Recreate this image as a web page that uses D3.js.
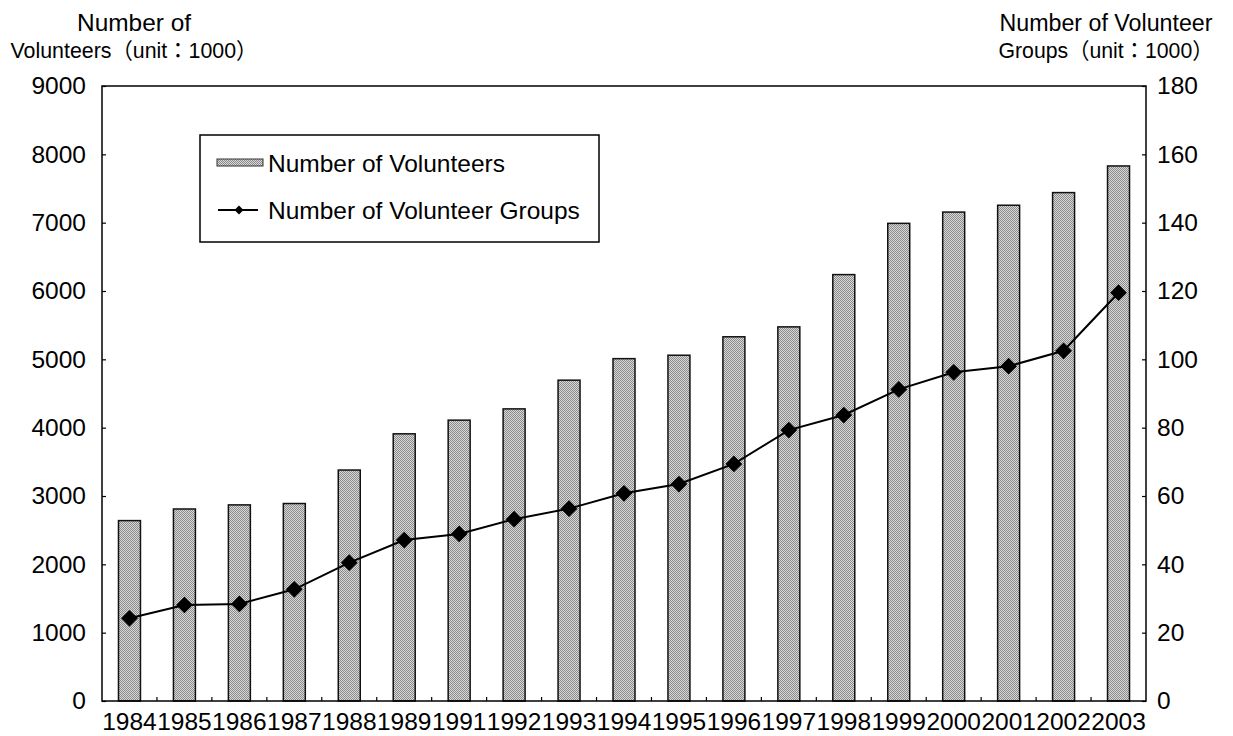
<!DOCTYPE html>
<html>
<head>
<meta charset="utf-8">
<script src="https://cdn.jsdelivr.net/npm/d3@7"></script>
<style>
  body { margin: 0; background: #fff; }
  svg text { font-family: "Liberation Sans", Arial, "Noto Sans CJK JP", sans-serif; fill: #000; }
</style>
</head>
<body>
<div id="chart"></div>
<script>
// data
const years = ["1984","1985","1986","1987","1988","1989","1991","1992","1993","1994",
               "1995","1996","1997","1998","1999","2000","2001","2002","2003"];
const volunteers = [2640, 2810, 2870, 2890, 3380, 3910, 4110, 4275, 4695, 5010,
                    5060, 5330, 5475, 6240, 6990, 7155, 7255, 7440, 7830];
const groups = [24.2, 28.1, 28.4, 32.7, 40.5, 47.1, 48.9, 53.2, 56.3, 60.8,
                63.5, 69.4, 79.3, 83.7, 91.2, 96.2, 98.0, 102.5, 119.5];
const leftTicks = [0, 1000, 2000, 3000, 4000, 5000, 6000, 7000, 8000, 9000];
const rightTicks = [0, 20, 40, 60, 80, 100, 120, 140, 160, 180];

const width = 1233, height = 736;
const m = { left: 102, right: 1146, top: 86, bottom: 701 };

const svg = d3.select("#chart").append("svg")
  .attr("width", width).attr("height", height);

// checker stipple like the printed bars
const defs = svg.append("defs");
const pat = defs.append("pattern").attr("id", "dots")
  .attr("width", 2).attr("height", 2).attr("patternUnits", "userSpaceOnUse");
pat.append("rect").attr("width", 2).attr("height", 2).attr("fill", "#d9d9d9");
pat.append("rect").attr("x", 0).attr("y", 0).attr("width", 1).attr("height", 1).attr("fill", "#8a8a8a");
pat.append("rect").attr("x", 1).attr("y", 1).attr("width", 1).attr("height", 1).attr("fill", "#8a8a8a");

const x = d3.scaleBand().domain(years).range([m.left, m.right]).paddingInner(0.6).paddingOuter(0.3);
const xb = d3.scaleBand().domain(years).range([m.left, m.right]);
const yL = d3.scaleLinear().domain([0, 9000]).range([m.bottom, m.top]);
const yR = d3.scaleLinear().domain([0, 180]).range([m.bottom, m.top]);

// bars
svg.append("g").selectAll("rect")
  .data(years)
  .enter().append("rect")
  .attr("x", d => x(d))
  .attr("width", x.bandwidth())
  .attr("y", (d, i) => yL(volunteers[i]))
  .attr("height", (d, i) => m.bottom - yL(volunteers[i]))
  .attr("fill", "url(#dots)")
  .attr("stroke", "#111")
  .attr("stroke-width", 1.5);

// frame
svg.append("rect")
  .attr("x", m.left).attr("y", m.top)
  .attr("width", m.right - m.left).attr("height", m.bottom - m.top)
  .attr("fill", "none").attr("stroke", "#000").attr("stroke-width", 1.5);

// axes
const axL = svg.append("g").attr("transform", `translate(${m.left},0)`)
  .call(d3.axisLeft(yL).tickValues(leftTicks).tickSize(-4).tickPadding(16).tickFormat(d3.format("d")));
const axR = svg.append("g").attr("transform", `translate(${m.right},0)`)
  .call(d3.axisRight(yR).tickValues(rightTicks).tickSize(-4).tickPadding(11).tickFormat(d3.format("d")));
const axB = svg.append("g").attr("transform", `translate(0,${m.bottom})`)
  .call(d3.axisBottom(xb).tickSize(0).tickPadding(10));
[axL, axR, axB].forEach(a => {
  a.select(".domain").remove();
  a.selectAll("line").attr("stroke", "#000").attr("stroke-width", 1.2);
  a.selectAll("text").attr("font-size", 24.5);
});
axB.selectAll("text").attr("dy", "0.76em");

// x ticks at category boundaries
svg.append("g").selectAll("line")
  .data(years.slice(1))
  .enter().append("line")
  .attr("x1", d => xb(d)).attr("x2", d => xb(d))
  .attr("y1", m.bottom).attr("y2", m.bottom - 4)
  .attr("stroke", "#000").attr("stroke-width", 1.2);

// line series
const line = d3.line()
  .x((d, i) => xb(years[i]) + xb.bandwidth() / 2)
  .y(d => yR(d));
svg.append("path").datum(groups)
  .attr("d", line)
  .attr("fill", "none").attr("stroke", "#000").attr("stroke-width", 2);

const diamond = d3.symbol().type(d3.symbolSquare).size(140);
svg.append("g").selectAll("path")
  .data(groups)
  .enter().append("path")
  .attr("d", diamond)
  .attr("transform", (d, i) => `translate(${xb(years[i]) + xb.bandwidth() / 2},${yR(d)}) rotate(45)`)
  .attr("fill", "#000");

// legend
const lg = svg.append("g");
lg.append("rect").attr("x", 200).attr("y", 135).attr("width", 399).attr("height", 107)
  .attr("fill", "#fff").attr("stroke", "#000").attr("stroke-width", 1.5);
lg.append("rect").attr("x", 217).attr("y", 159).attr("width", 46).attr("height", 7)
  .attr("fill", "url(#dots)").attr("stroke", "#333").attr("stroke-width", 1);
lg.append("text").attr("x", 268).attr("y", 163).attr("dy", "0.35em")
  .attr("font-size", 24.5).text("Number of Volunteers");
lg.append("line").attr("x1", 218).attr("x2", 258).attr("y1", 210).attr("y2", 210)
  .attr("stroke", "#000").attr("stroke-width", 2);
lg.append("path").attr("d", d3.symbol().type(d3.symbolSquare).size(40))
  .attr("transform", "translate(239,210) rotate(45)").attr("fill", "#000");
lg.append("text").attr("x", 268).attr("y", 210).attr("dy", "0.35em")
  .attr("font-size", 24.5).text("Number of Volunteer Groups");

// axis titles (two lines each, widths fitted to the reference)
function title(cx, lines) {
  lines.forEach((l, i) => {
    svg.append("text").attr("text-anchor", "middle").attr("font-size", l.f)
      .attr("x", cx).attr("y", 31 + i * 27)
      .attr("textLength", l.w).attr("lengthAdjust", "spacingAndGlyphs").text(l.s);
  });
}
title(134, [{ s: "Number of", w: 114, f: 24 }, { s: "Volunteers（unit：1000）", w: 247, f: 22 }]);
title(1106, [{ s: "Number of Volunteer", w: 213, f: 23 }, { s: "Groups（unit：1000）", w: 215, f: 22 }]);
</script>
</body>
</html>
